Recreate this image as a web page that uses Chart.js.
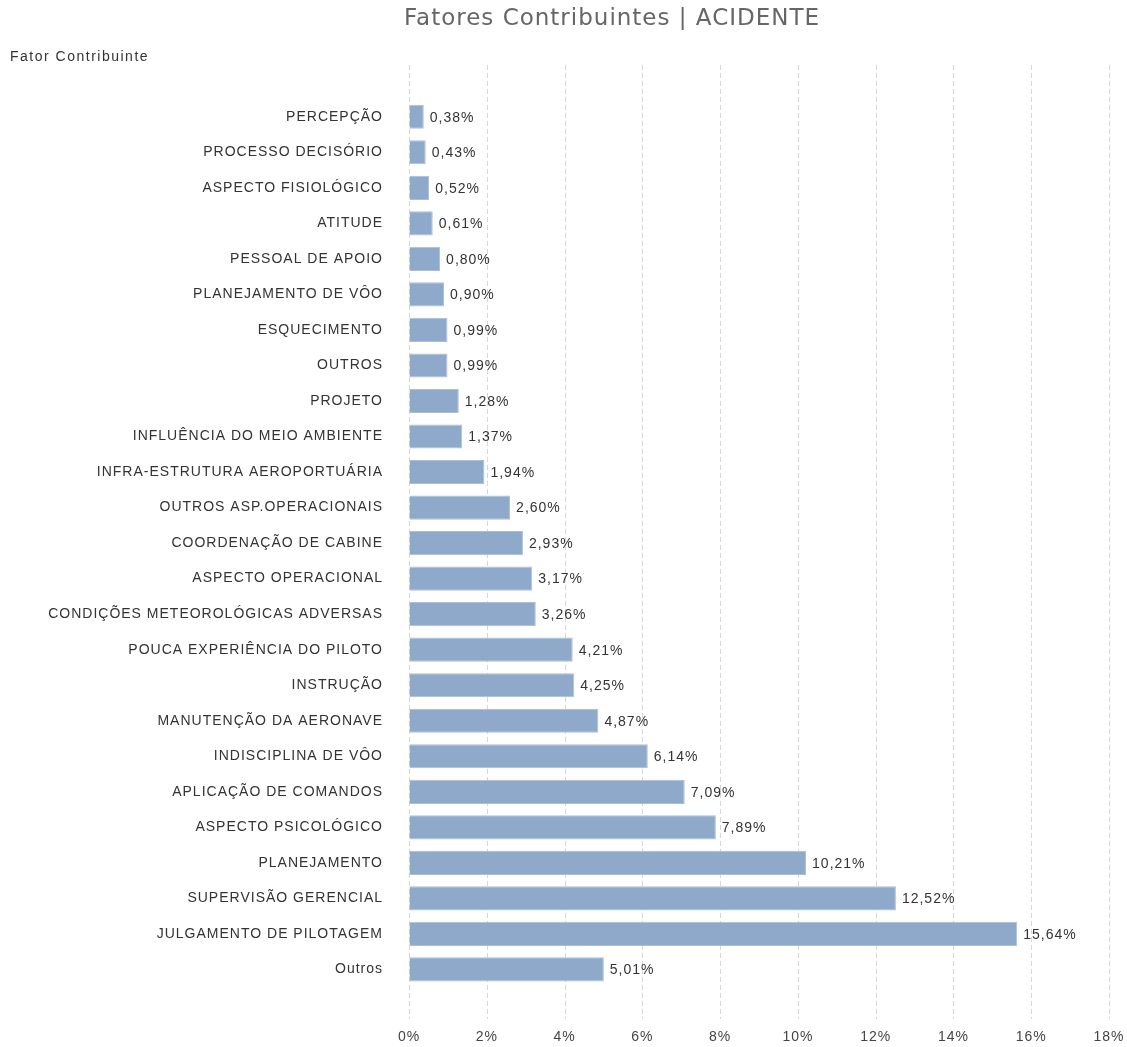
<!DOCTYPE html>
<html>
<head>
<meta charset="utf-8">
<script src="https://cdn.jsdelivr.net/npm/chart.js@4/dist/chart.umd.min.js"></script>
<style>
  html, body { margin: 0; padding: 0; background: #fff; overflow: hidden; }
  canvas { display: block; }
</style>
</head>
<body>
<canvas id="chart" width="1127" height="1047"></canvas>
<script>
var fatores = [
    "PERCEPÇÃO", "PROCESSO DECISÓRIO", "ASPECTO FISIOLÓGICO", "ATITUDE",
    "PESSOAL DE APOIO", "PLANEJAMENTO DE VÔO", "ESQUECIMENTO", "OUTROS",
    "PROJETO", "INFLUÊNCIA DO MEIO AMBIENTE", "INFRA-ESTRUTURA AEROPORTUÁRIA",
    "OUTROS ASP.OPERACIONAIS", "COORDENAÇÃO DE CABINE", "ASPECTO OPERACIONAL",
    "CONDIÇÕES METEOROLÓGICAS ADVERSAS", "POUCA EXPERIÊNCIA DO PILOTO",
    "INSTRUÇÃO", "MANUTENÇÃO DA AERONAVE", "INDISCIPLINA DE VÔO",
    "APLICAÇÃO DE COMANDOS", "ASPECTO PSICOLÓGICO", "PLANEJAMENTO",
    "SUPERVISÃO GERENCIAL", "JULGAMENTO DE PILOTAGEM", "Outros"
];
var percentuais = [
    0.38, 0.43, 0.52, 0.61, 0.80, 0.90, 0.99, 0.99, 1.28, 1.37, 1.94,
    2.60, 2.93, 3.17, 3.26, 4.21, 4.25, 4.87, 6.14, 7.09, 7.89, 10.21,
    12.52, 15.64, 5.01
];
var eixoMax = 18;
var eixoPasso = 2;

var titulo = "Fatores Contribuintes | ACIDENTE";
var tituloEixo = "Fator Contribuinte";

function fmt(v, casas) {
    return v.toFixed(casas).replace(".", ",") + "%";
}

// dashed vertical grid, runs a bit above and below the bars
var gradePlugin = {
    id: "grade",
    beforeDatasetsDraw: function(chart) {
        var ctx = chart.ctx, x = chart.scales.x, area = chart.chartArea;
        ctx.save();
        ctx.strokeStyle = "#d6d6d6";
        ctx.lineWidth = 1;
        ctx.setLineDash([5, 3]);
        x.ticks.forEach(function(t) {
            var px = Math.round(x.getPixelForValue(t.value)) + 0.5;
            ctx.beginPath();
            ctx.moveTo(px, area.top - 34);
            ctx.lineTo(px, area.bottom + 32);
            ctx.stroke();
        });
        ctx.restore();
    }
};

var rotulosPlugin = {
    id: "rotulos",
    beforeDraw: function(chart) {
        chart.ctx.letterSpacing = "1px";
    },
    afterDatasetsDraw: function(chart) {
        var ctx = chart.ctx;
        var meta = chart.getDatasetMeta(0);
        ctx.save();
        ctx.letterSpacing = "1px";
        ctx.font = "14px 'Liberation Sans', Arial, sans-serif";
        ctx.fillStyle = "#333";
        ctx.textAlign = "left";
        ctx.textBaseline = "middle";
        meta.data.forEach(function(bar, i) {
            ctx.fillText(fmt(percentuais[i], 2), bar.x + 6, bar.y + 1);
        });
        ctx.restore();
    },
    afterDraw: function(chart) {
        var ctx = chart.ctx;
        ctx.save();
        ctx.letterSpacing = "1px";
        ctx.font = "23px 'DejaVu Sans', Verdana, sans-serif";
        ctx.fillStyle = "#666";
        ctx.textAlign = "center";
        ctx.textBaseline = "middle";
        ctx.fillText(titulo, 612, 19);
        ctx.letterSpacing = "1.5px";
        ctx.font = "14px 'Liberation Sans', Arial, sans-serif";
        ctx.fillStyle = "#333";
        ctx.textAlign = "left";
        ctx.fillText(tituloEixo, 10, 57);
        ctx.restore();
    }
};

var ctx = document.getElementById("chart").getContext("2d");
var grafico = new Chart(ctx, {
    type: "bar",
    data: {
        labels: fatores,
        datasets: [{
            data: percentuais,
            backgroundColor: "#8ea9ca",
            borderColor: "#a9bfd9",
            borderWidth: 1,
            barPercentage: 0.68,
            categoryPercentage: 1
        }]
    },
    options: {
        indexAxis: "y",
        responsive: false,
        animation: false,
        layout: { padding: { top: 99, right: 18, bottom: 0, left: 0 } },
        plugins: {
            legend: { display: false },
            tooltip: { enabled: false }
        },
        scales: {
            x: {
                min: 0,
                max: eixoMax,
                border: { display: false },
                grid: {
                    display: true,
                    drawOnChartArea: false,
                    drawTicks: true,
                    tickLength: 41,
                    tickColor: "rgba(0,0,0,0)"
                },
                ticks: {
                    stepSize: eixoPasso,
                    padding: 1,
                    color: "#444",
                    font: { family: "'Liberation Sans', Arial, sans-serif", size: 14 },
                    callback: function(v) { return v + "%"; }
                }
            },
            y: {
                border: { display: false },
                grid: { display: false, drawTicks: false },
                afterFit: function(scale) { scale.width = 409; },
                ticks: {
                    padding: 26,
                    autoSkip: false,
                    color: "#333",
                    font: { family: "'Liberation Sans', Arial, sans-serif", size: 14 }
                }
            }
        }
    },
    plugins: [gradePlugin, rotulosPlugin]
});
</script>
</body>
</html>
